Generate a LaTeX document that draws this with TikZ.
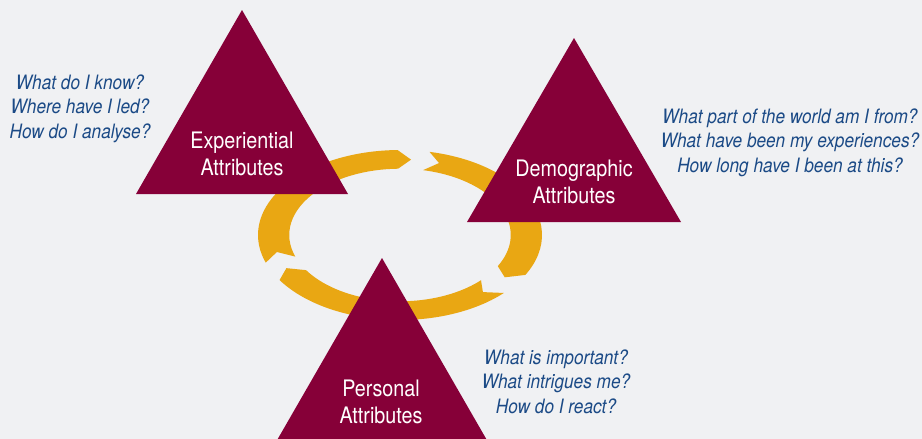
\documentclass[tikz,border=0pt]{standalone}
\usepackage{fontspec}
\setmainfont{TeX Gyre Heros}[FakeStretch=0.87]
\definecolor{bgcol}{HTML}{F0F1F3}
\definecolor{wine}{HTML}{860038}
\definecolor{gold}{HTML}{E9A713}
\definecolor{qblue}{HTML}{1B4A86}
\begin{document}
\begin{tikzpicture}[x=1pt,y=-1pt,
  triangle/.style={fill=wine},
  ringpart/.style={fill=gold},
  % multi-line nodes: the base anchor sits on the last line
  title/.style={text=white, align=center, inner sep=0pt, anchor=base,
    font=\fontsize{22.7}{27}\selectfont},
  question/.style={text=qblue, align=center, inner sep=0pt, anchor=base,
    font=\fontsize{19.8}{24.2}\selectfont\itshape}]
  % canvas
  \useasboundingbox (0,0) rectangle (922,439);
  \fill[bgcol] (0,0) rectangle (922,439);
  \clip (0,0) rectangle (922,439);

  % cycle of three curved chevron arrows, running clockwise
  \begin{scope}[shift={(400,235)}, xscale=142, yscale=-85]
    \foreach \tl/\hd in {199/91, 78/-28, -43/-148} {
      \fill[ringpart] (\tl:1) -- ({\tl-6}:0.89) -- (\tl:0.78)
        arc[start angle=\tl, end angle=\hd, radius=0.78]
        -- ({\hd-6}:0.89) -- (\hd:1)
        arc[start angle=\hd, end angle=\tl, radius=1] -- cycle;
    }
  \end{scope}

  % the three attribute triangles
  \fill[triangle] (242,10) -- (348,194) -- (136,194) -- cycle;
  \fill[triangle] (574,38) -- (681,222) -- (467,222) -- cycle;
  \fill[triangle] (382,258) -- (488,442) -- (276,442) -- cycle;

  % triangle labels
  \node[title] (exp) at (242,175) {Experiential\\Attributes};
  \node[title] (dem) at (574,203) {Demographic\\Attributes};
  \node[title] (per) at (381,423) {Personal\\Attributes};

  % guiding questions
  \node[question] (qexp) at (80,138) {What do I know?\\Where have I led?\\How do I analyse?};
  \node[question] (qdem) at (790,172) {What part of the world am I from?\\What have been my experiences?\\How long have I been at this?};
  \node[question] (qper) at (556,413) {What is important?\\What intrigues me?\\How do I react?};
\end{tikzpicture}
\end{document}
